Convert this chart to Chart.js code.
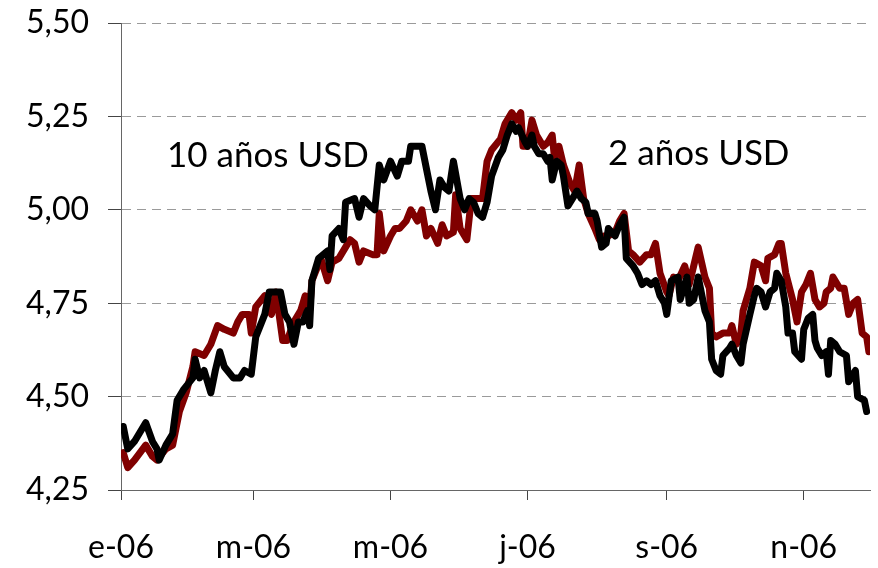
<!DOCTYPE html>
<html>
<head>
<meta charset="utf-8">
<script src="https://cdn.jsdelivr.net/npm/chart.js@4/dist/chart.umd.min.js"></script>
<style>
  html, body { margin: 0; padding: 0; background: #fff; }
  #wrap { width: 878px; height: 568px; }
</style>
</head>
<body>
<div id="wrap"><canvas id="chart" width="878" height="568"></canvas></div>
<script>
// días desde el 1 de enero de 2006
var days10y = [1,3,6,11,14,16,17,20,23,25,
  28,32,33,35,37,40,42,44,46,50,
  53,55,58,60,64,66,71,73,75,77,
  79,81,83,84,85,88,92,93,94,97,
  99,100,104,106,108,111,113,115,117,120,
  123,125,128,129,132,134,136,138,140,142,
  144,146,148,151,153,155,157,159,161,163,
  165,168,170,172,174,176,177,180,181,183,
  184,186,188,190,191,192,194,196,197,199,
  201,203,205,207,208,211,212,214,216,217,
  220,222,224,225,228,230,232,234,236,238,
  240,242,243,245,248,249,252,253,255,257,
  260,262,263,265,267,268,271,272,274,276,
  277,280,282,283,285,287,289,291,292,294,
  296,297,299,300,303,304,306,308,309,310,
  312,314,315,316,318,320,323,324,327,328,
  331,332];
var rate10y = [4.42,4.36,4.38,4.43,4.38,4.36,4.33,4.37,4.40,4.49,
  4.52,4.55,4.60,4.55,4.57,4.51,4.57,4.62,4.58,4.55,
  4.55,4.57,4.56,4.66,4.72,4.78,4.78,4.72,4.70,4.64,
  4.70,4.70,4.73,4.69,4.81,4.87,4.89,4.84,4.93,4.95,
  4.92,5.02,5.03,4.98,5.03,5.01,5.00,5.12,5.08,5.13,
  5.09,5.13,5.13,5.17,5.17,5.17,5.11,5.05,5.00,5.08,
  5.06,5.05,5.13,5.03,5.00,5.03,5.02,4.99,4.98,5.02,
  5.09,5.14,5.16,5.20,5.23,5.21,5.22,5.18,5.17,5.20,
  5.17,5.15,5.15,5.13,5.14,5.08,5.13,5.12,5.09,5.01,
  5.03,5.05,5.03,5.02,4.99,4.99,4.97,4.90,4.91,4.95,
  4.93,4.96,4.98,4.87,4.85,4.83,4.80,4.81,4.80,4.81,
  4.77,4.75,4.72,4.81,4.82,4.76,4.82,4.75,4.76,4.82,
  4.73,4.70,4.60,4.57,4.56,4.61,4.63,4.64,4.61,4.59,
  4.64,4.72,4.77,4.79,4.78,4.74,4.78,4.79,4.83,4.81,
  4.74,4.67,4.67,4.62,4.60,4.68,4.71,4.72,4.65,4.63,
  4.61,4.62,4.56,4.65,4.64,4.62,4.61,4.54,4.57,4.50,
  4.49,4.46];

var days2y = [1,3,6,11,14,16,20,23,26,29,
  32,33,37,40,43,46,50,52,54,57,
  58,60,64,67,69,72,74,77,80,82,
  84,85,89,92,94,97,100,102,104,106,
  108,112,114,115,117,120,122,124,127,129,
  132,134,136,138,141,143,145,148,149,151,
  153,154,156,159,161,163,165,169,171,174,
  176,178,179,181,183,185,188,190,192,193,
  195,197,200,202,204,206,208,211,213,215,
  217,220,222,224,226,228,231,234,236,238,
  240,243,244,246,248,251,253,255,257,260,
  262,263,265,268,271,272,274,276,277,280,
  282,285,287,288,291,293,294,296,299,301,
  303,305,307,309,311,313,314,316,317,320,
  322,324,326,328,330,332,333];
var rate2y = [4.35,4.31,4.33,4.37,4.34,4.33,4.36,4.37,4.46,4.51,
  4.58,4.62,4.61,4.64,4.69,4.68,4.67,4.70,4.72,4.72,
  4.67,4.74,4.77,4.72,4.78,4.65,4.65,4.70,4.73,4.77,
  4.73,4.81,4.87,4.81,4.86,4.87,4.90,4.92,4.91,4.86,
  4.89,4.88,4.88,4.99,4.89,4.93,4.95,4.95,4.97,5.00,
  4.97,5.00,4.93,4.95,4.91,4.96,4.93,4.94,5.04,4.95,
  4.93,4.92,5.03,5.03,5.03,5.13,5.16,5.19,5.23,5.26,
  5.24,5.26,5.17,5.17,5.24,5.20,5.17,5.18,5.20,5.14,
  5.17,5.12,5.07,5.05,5.12,5.03,4.99,4.95,4.92,4.93,
  4.93,4.94,4.97,4.99,4.89,4.88,4.86,4.88,4.88,4.91,
  4.83,4.78,4.77,4.82,4.81,4.85,4.80,4.85,4.90,4.82,
  4.79,4.67,4.66,4.67,4.67,4.69,4.64,4.67,4.73,4.79,
  4.86,4.85,4.81,4.87,4.88,4.91,4.91,4.83,4.76,4.70,
  4.78,4.80,4.83,4.76,4.74,4.75,4.78,4.79,4.82,4.79,
  4.79,4.72,4.75,4.76,4.67,4.66,4.62];

var tickDays = [0, 59, 120, 181, 243, 304];
var tickLabels = ['e-06', 'm-06', 'm-06', 'j-06', 's-06', 'n-06'];
var seriesNames = ['10 años USD', '2 años USD'];

var FONT = 'Lato, "Open Sans", sans-serif';

var toPoints = function (xs, ys) {
  var pts = [];
  for (var i = 0; i < xs.length; i++) {
    pts.push({ x: xs[i], y: ys[i] });
  }
  return pts;
};

// etiquetas de las series dentro del gráfico
var seriesLabels = {
  id: 'seriesLabels',
  afterDatasetsDraw: function (chart) {
    var ctx = chart.ctx, area = chart.chartArea;
    ctx.save();
    ctx.fillStyle = '#000';
    ctx.font = '35px ' + FONT;
    ctx.textBaseline = 'alphabetic';
    ctx.textAlign = 'left';
    ctx.fillText(seriesNames[0], area.left + 46, area.top + 144);
    ctx.fillText(seriesNames[1], area.left + 487, area.top + 142);
    ctx.restore();
  }
};

new Chart(document.getElementById('chart'), {
  type: 'line',
  data: {
    datasets: [{
      label: seriesNames[0],
      data: toPoints(days10y, rate10y),
      borderColor: '#000000',
      borderWidth: 7,
      pointRadius: 0,
      tension: 0,
      borderJoinStyle: 'round',
      borderCapStyle: 'round'
    }, {
      label: seriesNames[1],
      data: toPoints(days2y, rate2y),
      borderColor: '#800000',
      borderWidth: 7,
      pointRadius: 0,
      tension: 0,
      borderJoinStyle: 'round',
      borderCapStyle: 'round'
    }]
  },
  options: {
    responsive: false,
    animation: false,
    layout: { padding: { top: 23, right: 8, left: 0, bottom: 0 } },
    plugins: {
      legend: { display: false },
      tooltip: { enabled: false }
    },
    scales: {
      x: {
        type: 'linear',
        min: 0,
        max: 333.5,
        afterBuildTicks: function (scale) {
          scale.ticks = tickDays.map(function (d) { return { value: d }; });
        },
        afterFit: function (scale) { scale.height = 78; },
        ticks: {
          autoSkip: false,
          maxRotation: 0,
          padding: 28,
          color: '#000',
          font: { family: FONT, size: 32 },
          callback: function (v) {
            var i = tickDays.indexOf(v);
            return i >= 0 ? tickLabels[i] : '';
          }
        },
        grid: {
          drawOnChartArea: false,
          tickLength: 10,
          tickColor: '#444',
          lineWidth: 1
        },
        border: { color: '#666', width: 1 }
      },
      y: {
        min: 4.25,
        max: 5.5,
        afterFit: function (scale) {
          scale.width = 121;
          scale.paddingTop = 0;
          scale.paddingBottom = 0;
        },
        ticks: {
          stepSize: 0.25,
          padding: 19,
          color: '#000',
          font: { family: FONT, size: 32 },
          callback: function (v) { return v.toFixed(2).replace('.', ','); }
        },
        grid: {
          color: '#9a9a9a',
          lineWidth: 1,
          tickLength: 13,
          tickColor: '#444',
          tickBorderDash: []
        },
        border: { color: '#666', width: 1, dash: [9, 6] }
      }
    }
  },
  plugins: [seriesLabels]
});
</script>
</body>
</html>
